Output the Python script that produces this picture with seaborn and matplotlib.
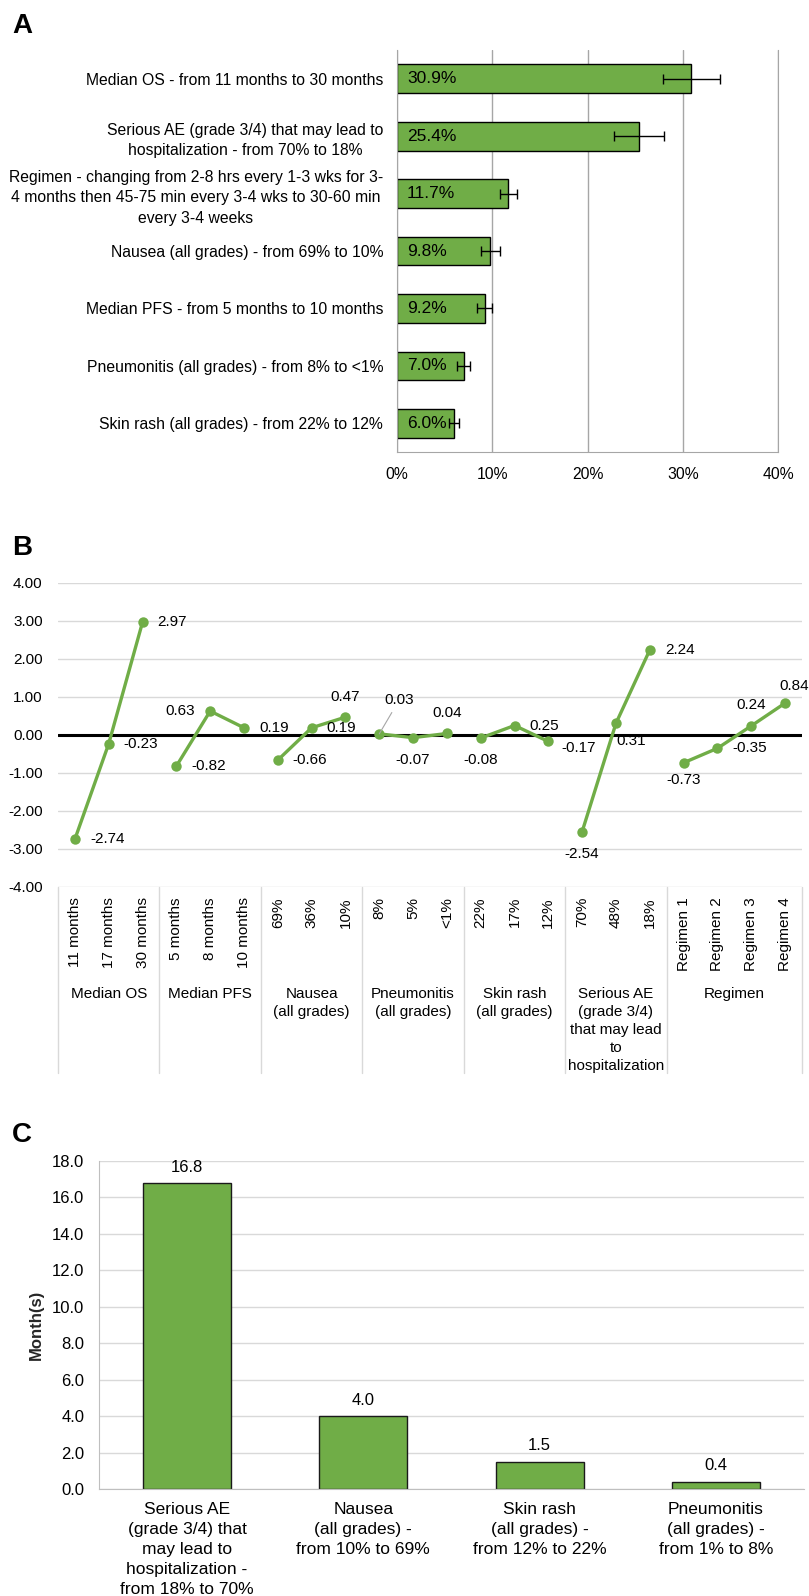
import matplotlib
matplotlib.use("Agg")
import matplotlib.pyplot as plt
import matplotlib.ticker as mticker
import numpy as np
import pandas as pd
import seaborn as sns

# panel A: relative attribute importance
attributes = [
    "Median OS - from 11 months to 30 months",
    "Serious AE (grade 3/4) that may lead to\nhospitalization - from 70% to 18%",
    "Regimen - changing from 2-8 hrs every 1-3 wks for 3-\n"
    "4 months then 45-75 min every 3-4 wks to 30-60 min\nevery 3-4 weeks",
    "Nausea (all grades) - from 69% to 10%",
    "Median PFS - from 5 months to 10 months",
    "Pneumonitis (all grades) - from 8% to <1%",
    "Skin rash (all grades) - from 22% to 12%",
]
importance = [30.9, 25.4, 11.7, 9.8, 9.2, 7.0, 6.0]
importance_err = [3.0, 2.6, 0.85, 1.0, 0.8, 0.65, 0.55]

# panel B: part-worth utilities by attribute level
attribute_groups = [
    "Median OS",
    "Median PFS",
    "Nausea\n(all grades)",
    "Pneumonitis\n(all grades)",
    "Skin rash\n(all grades)",
    "Serious AE\n(grade 3/4)\nthat may lead\nto\nhospitalization",
    "Regimen",
]
group_sizes = [3, 3, 3, 3, 3, 3, 4]
levels = [
    "11 months", "17 months", "30 months",
    "5 months", "8 months", "10 months",
    "69%", "36%", "10%",
    "8%", "5%", "<1%",
    "22%", "17%", "12%",
    "70%", "48%", "18%",
    "Regimen 1", "Regimen 2", "Regimen 3", "Regimen 4",
]
utilities = [
    -2.74, -0.23, 2.97,
    -0.82, 0.63, 0.19,
    -0.66, 0.19, 0.47,
    0.03, -0.07, 0.04,
    -0.08, 0.25, -0.17,
    -2.54, 0.31, 2.24,
    -0.73, -0.35, 0.24, 0.84,
]

# panel C: maximum acceptable risk
mar_labels = [
    "Serious AE\n(grade 3/4) that\nmay lead to\nhospitalization -\nfrom 18% to 70%",
    "Nausea\n(all grades) -\nfrom 10% to 69%",
    "Skin rash\n(all grades) -\nfrom 12% to 22%",
    "Pneumonitis\n(all grades) -\nfrom 1% to 8%",
]
mar_months = [16.8, 4.0, 1.5, 0.4]

green = "#70ad47"
W, H = 809, 1596

# where the value labels of panel B sit, in pixels from their point
label_default = (15, 0, "left")
label_offsets = {
    4: (-15, 0, "right"),
    8: (0, 20, "center"),
    9: (20, 34, "center"),
    10: (0, -22, "center"),
    11: (0, 20, "center"),
    12: (0, -22, "center"),
    14: (13, -7, "left"),
    15: (0, -22, "center"),
    16: (0, -18, "left"),
    18: (0, -17, "center"),
    20: (0, 21, "center"),
    21: (9, 17, "center"),
}


def frac_box(left, top, right, bottom):
    return [left / W, 1 - bottom / H, (right - left) / W, (bottom - top) / H]


def plot_importance(fig):
    ax = fig.add_axes(frac_box(397, 50, 778, 452))
    df = pd.DataFrame({"attribute": attributes, "importance": importance})
    sns.barplot(data=df, x="importance", y="attribute", orient="h", color=green,
                saturation=1, width=0.5, edgecolor="black", linewidth=1, ax=ax)
    ax.errorbar(importance, range(len(importance)), xerr=importance_err,
                fmt="none", ecolor="black", elinewidth=1, capsize=3.5,
                capthick=1, zorder=5)
    for i, v in enumerate(importance):
        ax.annotate(f"{v:.1f}%", (0, i), xytext=(10, 0),
                    textcoords="offset pixels", ha="left", va="center",
                    fontsize=12.5, zorder=6)

    ax.set_xlim(0, 40)
    ax.set_ylim(len(importance) - 0.5, -0.5)
    ax.xaxis.set_major_locator(mticker.MultipleLocator(10))
    ax.xaxis.set_major_formatter(mticker.PercentFormatter(decimals=0))
    ax.set_yticks(np.arange(len(importance) + 1) - 0.5, minor=True)
    ax.grid(axis="x", color="#a6a6a6", lw=1)
    ax.set_axisbelow(True)
    ax.set_xlabel("")
    ax.set_ylabel("")
    for s in ["left", "bottom", "right"]:
        ax.spines[s].set_color("#a6a6a6")
    ax.spines["top"].set_visible(False)
    ax.tick_params(axis="y", which="major", length=0, pad=10, labelsize=11.3)
    ax.tick_params(axis="y", which="minor", length=3.5, color="#a6a6a6")
    ax.tick_params(axis="x", length=0, pad=11, labelsize=11.3)
    for lbl in ax.get_yticklabels():
        lbl.set_multialignment("center")
        lbl.set_linespacing(1.45)


def plot_utilities(fig):
    ax = fig.add_axes(frac_box(58, 583, 802, 887))
    group_col = np.repeat(np.arange(len(group_sizes)), group_sizes)
    df = pd.DataFrame({"pos": np.arange(len(levels)), "utility": utilities,
                       "group": group_col})
    ax.axhline(0, color="black", lw=2.2, zorder=2)
    sns.lineplot(data=df, x="pos", y="utility", units="group", estimator=None,
                 color=green, lw=2.4, marker="o", markersize=7.5,
                 markeredgewidth=0, ax=ax, zorder=3)

    for i, v in enumerate(utilities):
        dx, dy, ha = label_offsets.get(i, label_default)
        arrow = None
        if i == 9:
            arrow = dict(arrowstyle="-", color="#a6a6a6", lw=0.8,
                         shrinkA=2, shrinkB=0)
        ax.annotate(f"{v:.2f}", (i, v), xytext=(dx, dy),
                    textcoords="offset pixels", ha=ha, va="center",
                    fontsize=11, arrowprops=arrow, zorder=4)

    ax.set_xlim(-0.5, len(levels) - 0.5)
    ax.set_ylim(-4, 4)
    ax.set_yticks(np.arange(-4, 5))
    ax.yaxis.set_major_formatter(mticker.FormatStrFormatter("%.2f"))
    ax.grid(axis="y", color="#d9d9d9", lw=1)
    ax.set_axisbelow(True)
    ax.set_xticks([])
    ax.set_xlabel("")
    ax.set_ylabel("")
    for s in ax.spines.values():
        s.set_visible(False)
    ax.tick_params(axis="y", length=0, pad=11, labelsize=11)

    # two-level category axis drawn below the plot
    trans = ax.get_xaxis_transform()
    axh = 887 - 583
    for i, name in enumerate(levels):
        ax.text(i, -10 / axh, name, transform=trans, rotation=90,
                ha="center", va="top", fontsize=11)
    edges = np.concatenate([[0], np.cumsum(group_sizes)]) - 0.5
    for x in edges:
        ax.plot([x, x], [0, -186 / axh], transform=trans, color="#d9d9d9",
                lw=1, clip_on=False)
    for name, lo, hi in zip(attribute_groups, edges[:-1], edges[1:]):
        ax.text((lo + hi) / 2, -100 / axh, name, transform=trans, ha="center",
                va="top", fontsize=11, linespacing=1.37)


def plot_mar(fig):
    ax = fig.add_axes(frac_box(99, 1161, 804, 1489))
    sns.barplot(x=mar_labels, y=mar_months, color=green, saturation=1,
                width=0.5, edgecolor="#1a1a1a", linewidth=1, ax=ax)
    ax.bar_label(ax.containers[0], fmt="%.1f", padding=6, fontsize=12)
    ax.set_ylim(0, 18)
    ax.yaxis.set_major_locator(mticker.MultipleLocator(2))
    ax.yaxis.set_major_formatter(mticker.FormatStrFormatter("%.1f"))
    ax.grid(axis="y", color="#d9d9d9", lw=1)
    ax.set_axisbelow(True)
    for s in ["left", "bottom"]:
        ax.spines[s].set_color("#bfbfbf")
    for s in ["top", "right"]:
        ax.spines[s].set_visible(False)
    ax.tick_params(axis="y", length=3.6, color="#bfbfbf", pad=7, labelsize=12)
    ax.tick_params(axis="x", length=0, pad=9, labelsize=12.5)
    for lbl in ax.get_xticklabels():
        lbl.set_linespacing(1.42)
    ax.set_ylabel("Month(s)", fontsize=12, fontweight="bold", va="center")
    ax.yaxis.set_label_coords(-(99 - 36) / (804 - 99), 0.5)


def main():
    sns.set_style("white")
    plt.rcParams["font.family"] = ["Liberation Sans", "DejaVu Sans"]
    plt.rcParams["text.color"] = "black"
    plt.rcParams["xtick.color"] = "black"
    plt.rcParams["ytick.color"] = "black"

    fig = plt.figure(figsize=(W / 100, H / 100), dpi=100)
    plot_importance(fig)
    plot_utilities(fig)
    plot_mar(fig)

    for letter, base in [("A", 33), ("B", 555), ("C", 1142)]:
        fig.text(12 / W, 1 - base / H, letter, fontsize=20,
                 fontweight="bold", va="baseline")

    fig.savefig("out.png", dpi=100)


if __name__ == "__main__":
    main()
